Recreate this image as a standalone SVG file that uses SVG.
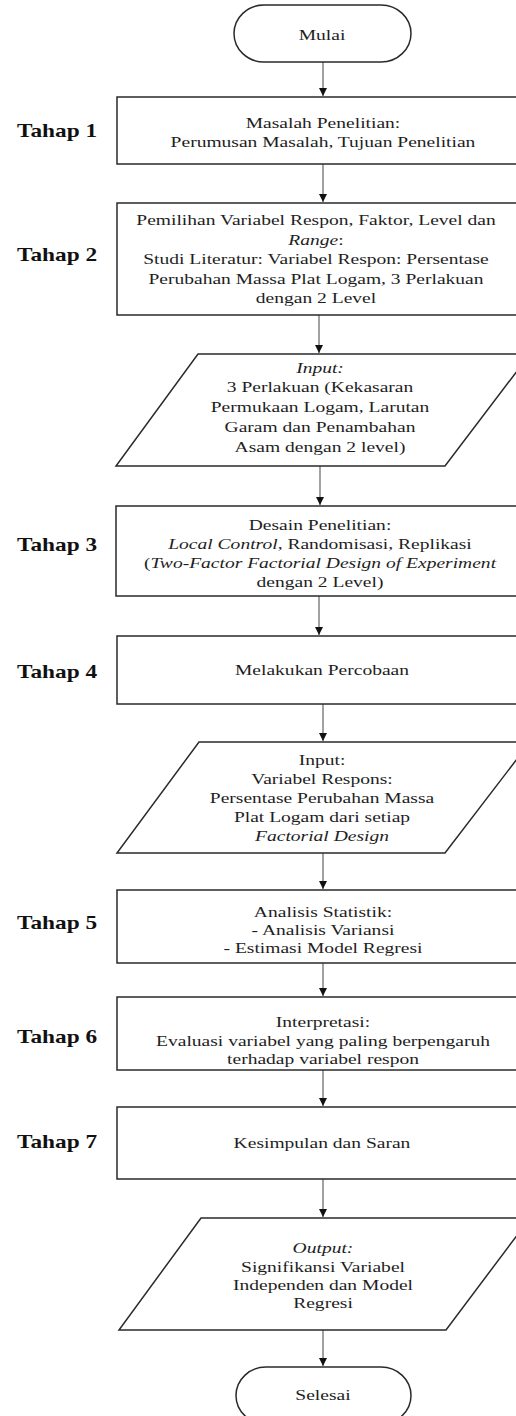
<svg xmlns="http://www.w3.org/2000/svg" width="516" height="1416" viewBox="0 0 516 1416">
<style>
.shape{fill:#fff;stroke:#2a2a2a;stroke-width:1.5}
.conn{stroke:#555;stroke-width:1.1;fill:none}
.t{font-family:"Liberation Serif","Times New Roman",serif;font-size:15.5px;fill:#1e1e1e;text-anchor:middle}
.lbl{font-family:"Liberation Serif","Times New Roman",serif;font-size:18.5px;font-weight:bold;fill:#111}
.i{font-style:italic}
</style>
<defs>
<marker id="ah" markerUnits="userSpaceOnUse" markerWidth="9" markerHeight="9" refX="8" refY="4" orient="auto">
<path d="M0,0 L8,4 L0,8 Z" fill="#111"/>
</marker>
</defs>
<rect width="516" height="1416" fill="#fff"/>

<g id="connectors">
<line class="conn" x1="323" y1="62" x2="323" y2="96" marker-end="url(#ah)"/>
<line class="conn" x1="323" y1="164" x2="323" y2="202" marker-end="url(#ah)"/>
<line class="conn" x1="319" y1="315" x2="319" y2="353" marker-end="url(#ah)"/>
<line class="conn" x1="320" y1="466" x2="320" y2="505" marker-end="url(#ah)"/>
<line class="conn" x1="319" y1="596" x2="319" y2="635" marker-end="url(#ah)"/>
<line class="conn" x1="323" y1="704" x2="323" y2="741" marker-end="url(#ah)"/>
<line class="conn" x1="323" y1="853" x2="323" y2="889" marker-end="url(#ah)"/>
<line class="conn" x1="323" y1="963" x2="323" y2="996" marker-end="url(#ah)"/>
<line class="conn" x1="323" y1="1070" x2="323" y2="1106" marker-end="url(#ah)"/>
<line class="conn" x1="323" y1="1179" x2="323" y2="1217" marker-end="url(#ah)"/>
<line class="conn" x1="323" y1="1330" x2="323" y2="1366" marker-end="url(#ah)"/>
</g>

<g id="labels">
<text class="lbl" transform="matrix(1.26 0 0 1 17 0)"><tspan x="0" y="137">Tahap 1</tspan><tspan x="0" y="261">Tahap 2</tspan><tspan x="0" y="551">Tahap 3</tspan><tspan x="0" y="678">Tahap 4</tspan><tspan x="0" y="929">Tahap 5</tspan><tspan x="0" y="1043">Tahap 6</tspan><tspan x="0" y="1148">Tahap 7</tspan></text>
</g>

<g id="mulai">
<rect class="shape" x="234" y="5" width="177" height="57" rx="30" ry="28.5"/>
<text class="t" transform="matrix(1.26 0 0 1 322 0)"><tspan x="0" y="40">Mulai</tspan></text>
</g>

<g id="tahap1">
<rect class="shape" x="117" y="97" width="415" height="67"/>
<text class="t" transform="matrix(1.26 0 0 1 323 0)"><tspan x="0" y="128">Masalah Penelitian:</tspan><tspan x="0" y="147">Perumusan Masalah,  Tujuan Penelitian</tspan></text>
</g>

<g id="tahap2">
<rect class="shape" x="117" y="203" width="415" height="112"/>
<text class="t" transform="matrix(1.26 0 0 1 316 0)"><tspan x="0" y="225">Pemilihan Variabel Respon, Faktor, Level dan</tspan><tspan x="0" y="245"><tspan class="i">Range</tspan>:</tspan><tspan x="0" y="264">Studi Literatur: Variabel Respon: Persentase</tspan><tspan x="0" y="284">Perubahan Massa Plat Logam, 3 Perlakuan</tspan><tspan x="0" y="303">dengan 2 Level</tspan></text>
</g>

<g id="input1">
<polygon class="shape" points="198,354 530,354 445,466 116,466"/>
<text class="t" transform="matrix(1.26 0 0 1 320 0)"><tspan x="0" y="373" class="i">Input:</tspan><tspan x="0" y="392">3 Perlakuan (Kekasaran</tspan><tspan x="0" y="412">Permukaan Logam, Larutan</tspan><tspan x="0" y="432">Garam dan Penambahan</tspan><tspan x="0" y="452">Asam dengan 2 level)</tspan></text>
</g>

<g id="tahap3">
<rect class="shape" x="116" y="506" width="416" height="90"/>
<text class="t" transform="matrix(1.26 0 0 1 320 0)"><tspan x="0" y="530">Desain Penelitian:</tspan><tspan x="0" y="549"><tspan class="i">Local Control</tspan>, Randomisasi, Replikasi</tspan><tspan x="0" y="568">(<tspan class="i">Two-Factor Factorial Design of Experiment</tspan></tspan><tspan x="0" y="587">dengan 2 Level)</tspan></text>
</g>

<g id="tahap4">
<rect class="shape" x="117" y="636" width="415" height="68"/>
<text class="t" transform="matrix(1.26 0 0 1 322 0)"><tspan x="0" y="675">Melakukan Percobaan</tspan></text>
</g>

<g id="input2">
<polygon class="shape" points="199,742 530,742 445,853 117,853"/>
<text class="t" transform="matrix(1.26 0 0 1 322 0)"><tspan x="0" y="765">Input:</tspan><tspan x="0" y="784">Variabel Respons:</tspan><tspan x="0" y="803">Persentase Perubahan Massa</tspan><tspan x="0" y="822">Plat Logam dari setiap</tspan><tspan x="0" y="841" class="i">Factorial Design</tspan></text>
</g>

<g id="tahap5">
<rect class="shape" x="117" y="890" width="415" height="73"/>
<text class="t" transform="matrix(1.26 0 0 1 323 0)"><tspan x="0" y="917">Analisis Statistik:</tspan><tspan x="0" y="935">- Analisis Variansi</tspan><tspan x="0" y="953">- Estimasi Model Regresi</tspan></text>
</g>

<g id="tahap6">
<rect class="shape" x="117" y="997" width="415" height="73"/>
<text class="t" transform="matrix(1.26 0 0 1 323 0)"><tspan x="0" y="1027">Interpretasi:</tspan><tspan x="0" y="1046">Evaluasi variabel yang paling berpengaruh</tspan><tspan x="0" y="1064">terhadap variabel respon</tspan></text>
</g>

<g id="tahap7">
<rect class="shape" x="117" y="1107" width="415" height="72"/>
<text class="t" transform="matrix(1.26 0 0 1 322 0)"><tspan x="0" y="1148">Kesimpulan dan Saran</tspan></text>
</g>

<g id="output">
<polygon class="shape" points="201,1218 530,1218 446,1330 119,1330"/>
<text class="t" transform="matrix(1.26 0 0 1 323 0)"><tspan x="0" y="1253" class="i">Output:</tspan><tspan x="0" y="1272">Signifikansi Variabel</tspan><tspan x="0" y="1290">Independen dan Model</tspan><tspan x="0" y="1308">Regresi</tspan></text>
</g>

<g id="selesai">
<rect class="shape" x="236" y="1367" width="175" height="57" rx="30" ry="28.5"/>
<text class="t" transform="matrix(1.26 0 0 1 323 0)"><tspan x="0" y="1400">Selesai</tspan></text>
</g>
</svg>
